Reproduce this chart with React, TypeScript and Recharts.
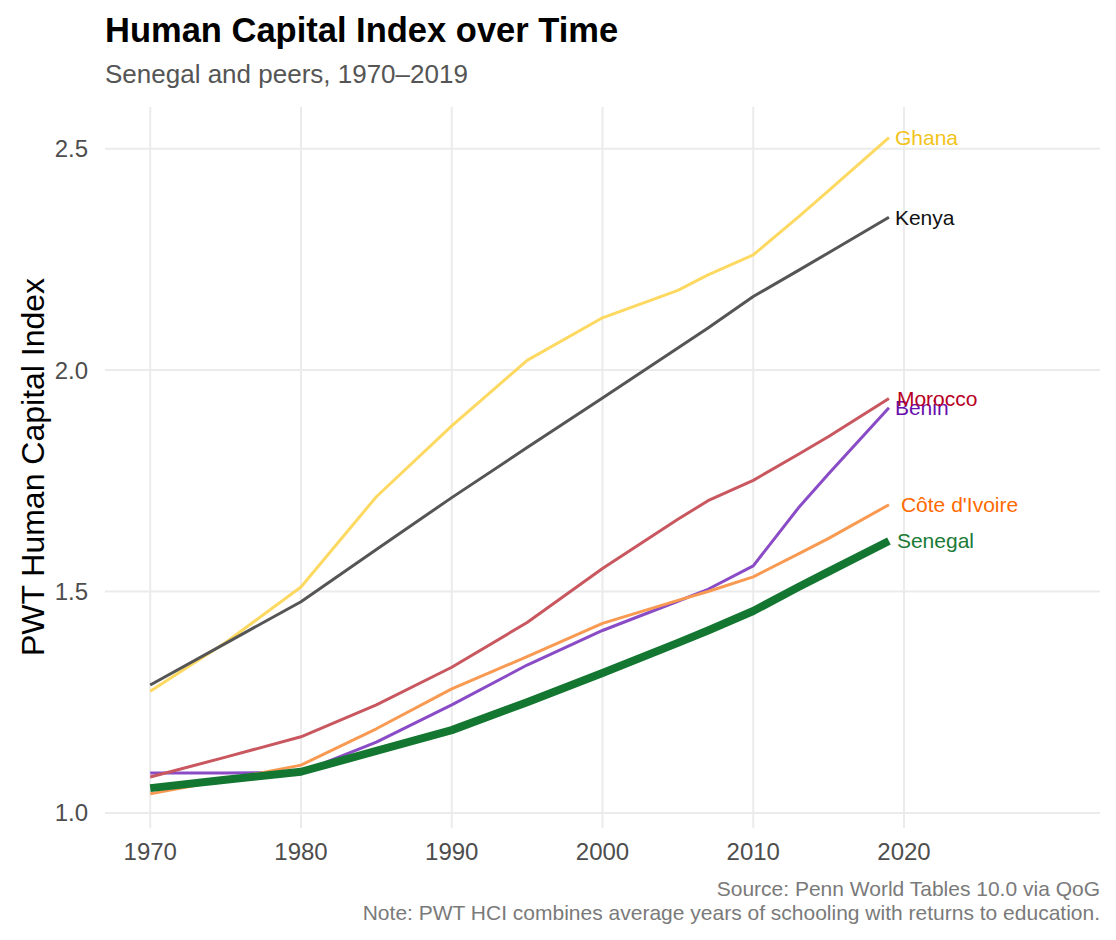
import React from 'react';
import { LineChart, Line, XAxis, YAxis, CartesianGrid } from 'recharts';

const years = [1970, 1975, 1980, 1985, 1990, 1995, 2000, 2005, 2007, 2010, 2013, 2015, 2019];
const ghana = [1.275, 1.385, 1.51, 1.714, 1.874, 2.022, 2.118, 2.18, 2.215, 2.26, 2.346, 2.405, 2.525];
const kenya = [1.289, 1.383, 1.477, 1.595, 1.712, 1.825, 1.937, 2.05, 2.095, 2.166, 2.225, 2.265, 2.345];
const benin = [1.09, 1.09, 1.092, 1.16, 1.244, 1.334, 1.412, 1.478, 1.505, 1.558, 1.689, 1.766, 1.915];
const morocco = [1.081, 1.126, 1.172, 1.244, 1.329, 1.43, 1.552, 1.663, 1.705, 1.751, 1.81, 1.85, 1.936];
const coteDIvoire = [1.043, 1.075, 1.108, 1.19, 1.28, 1.353, 1.428, 1.48, 1.5, 1.533, 1.585, 1.62, 1.696];
const senegal = [1.056, 1.075, 1.093, 1.14, 1.187, 1.25, 1.316, 1.384, 1.412, 1.456, 1.51, 1.545, 1.614];

const xTicks = [1970, 1980, 1990, 2000, 2010, 2020];
const yTicks = [1.0, 1.5, 2.0, 2.5];

const data = years.map((year, i) => ({
  year,
  Ghana: ghana[i],
  Kenya: kenya[i],
  Benin: benin[i],
  Morocco: morocco[i],
  CIV: coteDIvoire[i],
  Senegal: senegal[i],
}));

const series = [
  { key: 'Ghana', label: 'Ghana', line: '#FDD550', text: '#F3C31A', width: 3, opacity: 0.9, dx: 6 },
  { key: 'Kenya', label: 'Kenya', line: '#555555', text: '#111111', width: 3, opacity: 1, dx: 6 },
  { key: 'Benin', label: 'Benin', line: '#8A4CC6', text: '#6A0DAD', width: 3, opacity: 1, dx: 6 },
  { key: 'Morocco', label: 'Morocco', line: '#C9575F', text: '#B8001F', width: 3, opacity: 1, dx: 8 },
  { key: 'CIV', label: "Côte d'Ivoire", line: '#F99A52', text: '#FF6A00', width: 3, opacity: 1, dx: 12 },
  { key: 'Senegal', label: 'Senegal', line: '#137731', text: '#1A7A36', width: 8, opacity: 1, dx: 8 },
];

const FONT = '"Liberation Sans", Arial, Helvetica, sans-serif';
const lastIndex = years.length - 1;

const makeLabel = (s: any) => (props: any) => {
  const { x, y, index } = props;
  if (index !== lastIndex) return null;
  return (
    <text
      key={s.key + '-lbl'}
      x={x + s.dx}
      y={y}
      dy="0.35em"
      fill={s.text}
      fontSize={21}
      fontFamily={FONT}
      textAnchor="start"
    >
      {s.label}
    </text>
  );
};

export default function App() {
  return (
    <div style={{ position: 'absolute', left: 0, top: 0, width: 1116, height: 940, background: '#fff', fontFamily: FONT }}>
      <LineChart
        width={1116}
        height={940}
        data={data}
        margin={{ top: 107, right: 16, bottom: 0, left: 0 }}
      >
        <CartesianGrid
          stroke="#EBEBEB"
          strokeWidth={2}
          horizontalValues={yTicks}
          verticalValues={xTicks}
        />
        <XAxis
          dataKey="year"
          type="number"
          domain={[1967, 2033]}
          ticks={xTicks}
          interval={0}
          allowDataOverflow
          axisLine={false}
          tickLine={false}
          tickSize={0}
          tickMargin={15}
          height={112}
          tick={{ fontSize: 24, fill: '#4D4D4D', fontFamily: FONT }}
        />
        <YAxis
          type="number"
          domain={[0.966, 2.594]}
          ticks={yTicks}
          interval={0}
          allowDataOverflow
          axisLine={false}
          tickLine={false}
          tickSize={0}
          tickMargin={17}
          width={105}
          tickFormatter={(v: number) => v.toFixed(1)}
          tick={{ fontSize: 24, fill: '#4D4D4D', fontFamily: FONT }}
        />
        {series.map((s) => (
          <Line
            key={s.key}
            dataKey={s.key}
            type="linear"
            stroke={s.line}
            strokeOpacity={s.opacity}
            strokeWidth={s.width}
            dot={false}
            activeDot={false}
            isAnimationActive={false}
            strokeLinejoin="round"
            strokeLinecap="butt"
            label={makeLabel(s)}
          />
        ))}
      </LineChart>
      <svg
        width={1116}
        height={940}
        style={{ position: 'absolute', left: 0, top: 0, pointerEvents: 'none' }}
      >
        <text x={105} y={42} fontSize={34.5} fontWeight="bold" fill="#000" fontFamily={FONT}>
          Human Capital Index over Time
        </text>
        <text x={105} y={83} fontSize={26} fill="#555555" fontFamily={FONT}>
          Senegal and peers, 1970–2019
        </text>
        <text
          transform="translate(44, 467) rotate(-90)"
          textAnchor="middle"
          fontSize={32}
          fill="#000"
          fontFamily={FONT}
        >
          PWT Human Capital Index
        </text>
        <text x={1100} y={896} textAnchor="end" fontSize={21} fill="#7A7A7A" fontFamily={FONT}>
          Source: Penn World Tables 10.0 via QoG
        </text>
        <text x={1100} y={920} textAnchor="end" fontSize={21} fill="#7A7A7A" fontFamily={FONT}>
          Note: PWT HCI combines average years of schooling with returns to education.
        </text>
      </svg>
    </div>
  );
}
